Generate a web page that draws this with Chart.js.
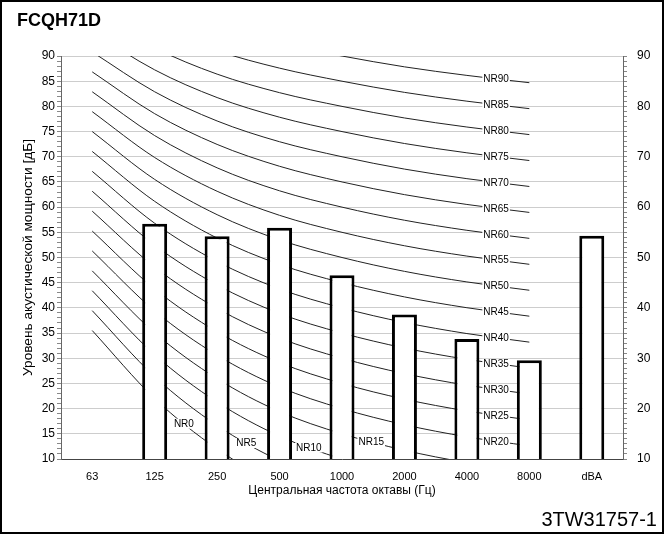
<!DOCTYPE html>
<html>
<head>
<meta charset="utf-8">
<script src="https://cdn.jsdelivr.net/npm/chart.js@4.4.1/dist/chart.umd.min.js"></script>
<style>
  body { margin: 0; background: #fff; }
  #page { position: relative; width: 664px; height: 534px; overflow: hidden; font-family: Arial, "Liberation Sans", sans-serif; }
  #frame { position: absolute; left: 0; top: 0; width: 664px; height: 534px; box-sizing: border-box; border: 2px solid #000; }
  #title { position: absolute; left: 17px; top: 10px; font-weight: bold; font-size: 18px; }
  #code { position: absolute; right: 7px; top: 508px; font-size: 20px; }
  canvas { position: absolute; left: 0; top: 0; }
</style>
</head>
<body>
<div id="page">
  <canvas id="chart" width="664" height="534"></canvas>
  <div id="title">FCQH71D</div>
  <div id="code">3TW31757-1</div>
  <div id="frame"></div>
</div>
<script>
// octave bands + overall dBA
const categories = ['63', '125', '250', '500', '1000', '2000', '4000', '8000', 'dBA'];
// sound power level of the unit, dB
const soundPower = [null, 56.7, 54.2, 55.9, 46.5, 38.7, 33.8, 29.6, 54.3];

// NR curves, 63 .. 8000 Hz (no value at dBA)
const nrLevels = [0, 5, 10, 15, 20, 25, 30, 35, 40, 45, 50, 55, 60, 65, 70, 75, 80, 85, 90];
const nr0  = [35.5, 22.0, 12.0, 4.8, 0, -3.5, -6.1, -8.0, null];
const nr5  = [39.45, 26.35, 16.65, 9.67, 5, 1.58, -0.98, -2.85, null];
const nr10 = [43.4, 30.7, 21.3, 14.54, 10, 6.65, 4.15, 2.3, null];
const nr15 = [47.35, 35.05, 25.95, 19.41, 15, 11.73, 9.28, 7.45, null];
const nr20 = [51.3, 39.4, 30.6, 24.28, 20, 16.8, 14.4, 12.6, null];
const nr25 = [55.25, 43.75, 35.25, 29.15, 25, 21.88, 19.53, 17.75, null];
const nr30 = [59.2, 48.1, 39.9, 34.02, 30, 26.95, 24.65, 22.9, null];
const nr35 = [63.15, 52.45, 44.55, 38.89, 35, 32.03, 29.78, 28.05, null];
const nr40 = [67.1, 56.8, 49.2, 43.76, 40, 37.1, 34.9, 33.2, null];
const nr45 = [71.05, 61.15, 53.85, 48.63, 45, 42.18, 40.03, 38.35, null];
const nr50 = [75.0, 65.5, 58.5, 53.5, 50, 47.25, 45.15, 43.5, null];
const nr55 = [78.95, 69.85, 63.15, 58.37, 55, 52.33, 50.28, 48.65, null];
const nr60 = [82.9, 74.2, 67.8, 63.24, 60, 57.4, 55.4, 53.8, null];
const nr65 = [86.85, 78.55, 72.45, 68.11, 65, 62.48, 60.53, 58.95, null];
const nr70 = [90.8, 82.9, 77.1, 72.98, 70, 67.55, 65.65, 64.1, null];
const nr75 = [94.75, 87.25, 81.75, 77.85, 75, 72.63, 70.78, 69.25, null];
const nr80 = [98.7, 91.6, 86.4, 82.72, 80, 77.7, 75.9, 74.4, null];
const nr85 = [102.65, 95.95, 91.05, 87.59, 85, 82.78, 81.03, 79.55, null];
const nr90 = [106.6, 100.3, 95.7, 92.46, 90, 87.85, 86.15, 84.7, null];
const nrCurves = [nr0, nr5, nr10, nr15, nr20, nr25, nr30, nr35, nr40, nr45,
                  nr50, nr55, nr60, nr65, nr70, nr75, nr80, nr85, nr90];

Chart.defaults.font.family = 'Arial, "Liberation Sans", sans-serif';
Chart.defaults.color = '#000';

// segment (between two bands) where each NR label sits
const labelSegment = nrLevels.map(n => n < 20 ? n / 5 + 1 : 6);

const nrLabels = {
  id: 'nrLabels',
  afterDatasetsDraw(chart) {
    const ctx = chart.ctx;
    ctx.save();
    ctx.font = '10px Arial, "Liberation Sans", sans-serif';
    ctx.textAlign = 'center';
    ctx.textBaseline = 'middle';
    nrLevels.forEach((level, i) => {
      const pts = chart.getDatasetMeta(i + 1).data;
      const a = pts[labelSegment[i]], b = pts[labelSegment[i] + 1];
      const x = (a.x + b.x) / 2 - 2;
      const y = (a.y + b.y) / 2;
      const text = 'NR' + level;
      const w = ctx.measureText(text).width;
      ctx.fillStyle = '#fff';
      ctx.fillRect(x - w / 2 - 1, y - 5, w + 2, 10);
      ctx.fillStyle = '#000';
      ctx.fillText(text, x, y + 0.5);
    });
    ctx.restore();
  }
};

const datasets = [{
  type: 'bar',
  data: soundPower,
  backgroundColor: '#fff',
  borderColor: '#000',
  borderWidth: 3,
  borderSkipped: false,
  barPercentage: 0.4,
  categoryPercentage: 1,
  order: 0
}];
nrCurves.forEach((vals, i) => {
  datasets.push({
    type: 'line',
    label: 'NR' + nrLevels[i],
    data: vals,
    borderColor: '#222',
    borderWidth: 1,
    pointRadius: 0,
    cubicInterpolationMode: 'monotone',
    order: 1
  });
});

new Chart(document.getElementById('chart'), {
  type: 'bar',
  data: { labels: categories, datasets: datasets },
  options: {
    responsive: false,
    animation: false,
    layout: { padding: { top: 56 } },
    plugins: { legend: { display: false }, tooltip: { enabled: false } },
    scales: {
      x: {
        grid: { display: false },
        border: { color: '#444' },
        ticks: { font: { size: 11 }, padding: 3 },
        title: { display: true, text: 'Центральная частота октавы (Гц)', font: { size: 12 }, padding: { top: 0, bottom: 36 } },
        afterFit: s => { s.height = 75; }
      },
      y: {
        position: 'left',
        min: 10,
        max: 90,
        ticks: {
          stepSize: 1, autoSkip: false, maxTicksLimit: 100, padding: 2, font: { size: 12 },
          callback: v => v % 5 === 0 ? v : ''
        },
        grid: {
          color: c => c.tick && c.tick.value % 5 === 0 ? '#cdcdcd' : 'rgba(0,0,0,0)',
          tickColor: '#888',
          tickLength: 4
        },
        border: { color: '#666' },
        title: { display: true, text: 'Уровень акустической мощности [дБ]', font: { size: 13.7 }, padding: { top: 20, bottom: 0 } },
        afterFit: s => { s.width = 61; }
      },
      y2: {
        position: 'right',
        min: 10,
        max: 90,
        ticks: {
          stepSize: 1, autoSkip: false, maxTicksLimit: 100, padding: 10, font: { size: 12 },
          callback: v => v % 10 === 0 ? v : ''
        },
        grid: { drawOnChartArea: false, tickColor: '#888', tickLength: 4 },
        border: { color: '#666' },
        afterFit: s => { s.width = 41; }
      }
    }
  },
  plugins: [nrLabels]
});
</script>
</body>
</html>
